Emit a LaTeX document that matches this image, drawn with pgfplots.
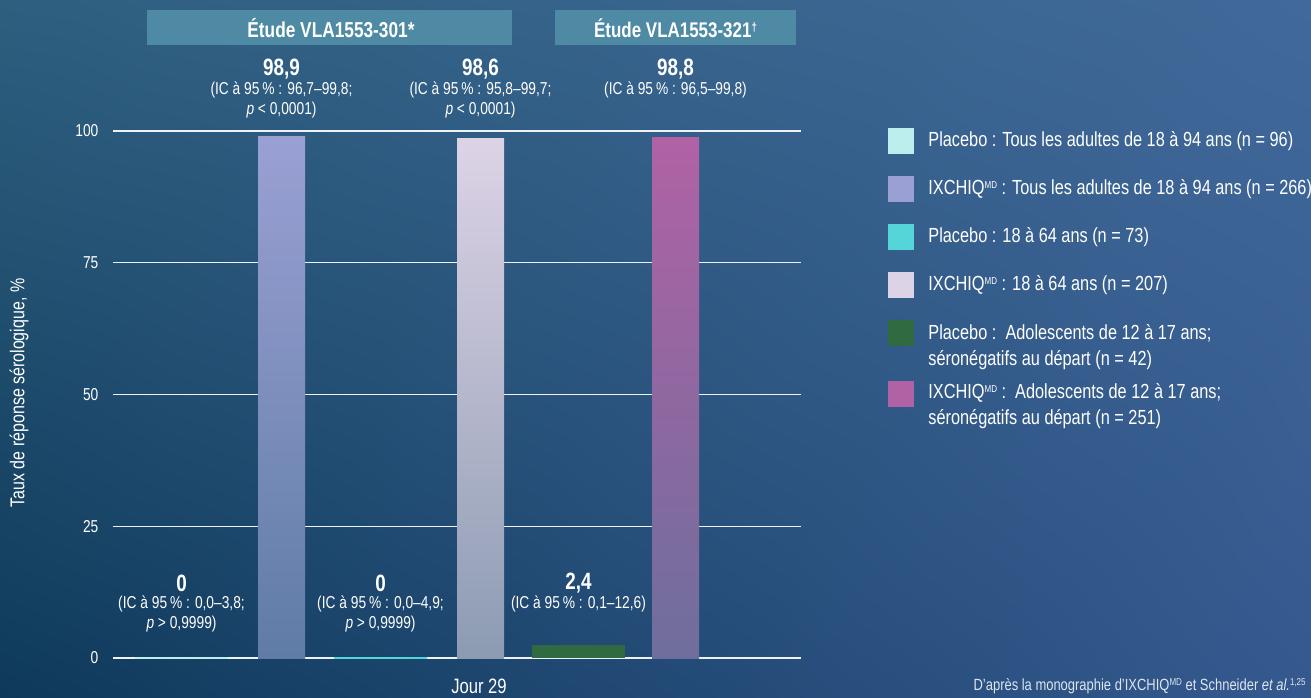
\documentclass[border=0pt]{standalone}
\usepackage{pgfplots}
\pgfplotsset{compat=1.18}
\usetikzlibrary{shadings}
\usepackage{fontspec}
\setmainfont{Liberation Sans}[FakeStretch=0.80]

\definecolor{bgTL}{HTML}{2E5F7F}
\definecolor{bgTR}{HTML}{41699A}
\definecolor{bgBL}{HTML}{0E395A}
\definecolor{bgBR}{HTML}{35598F}
\definecolor{hdr}{HTML}{4F8AA5}
\definecolor{plA}{HTML}{BDEEEE}
\definecolor{plB}{HTML}{55D5D8}
\definecolor{plC}{HTML}{2F6A40}
\definecolor{ixA}{HTML}{9AA0D3}
\definecolor{ixAb}{HTML}{5F7CA6}
\definecolor{ixB}{HTML}{DDD3E6}
\definecolor{ixBb}{HTML}{8C9BB2}
\definecolor{ixC}{HTML}{B062A5}
\definecolor{ixCb}{HTML}{6E6E9C}
\definecolor{foot}{HTML}{DDE5EF}

\newcommand{\md}{\raisebox{0.55ex}{\fontsize{5}{5}\selectfont MD}}

\begin{document}
\begin{tikzpicture}
% background, 1 px = 0.5pt, y down
\shade[upper left=bgTL, upper right=bgTR, lower left=bgBL, lower right=bgBR]
  (0pt,0pt) rectangle (655.5pt,-348.5pt);
\useasboundingbox (0pt,0pt) rectangle (655.5pt,-348.5pt);

\begin{axis}[
  at={(56.5pt,-329pt)}, anchor=south west,
  scale only axis, width=344pt, height=263.5pt,
  xmin=113, xmax=801, ymin=0, ymax=100,
  axis line style={draw=none},
  xtick=\empty,
  ytick={0,25,50,75,100},
  ymajorgrids,
  grid style={white!92!bgTL, line width=0.6pt},
  major tick length=0pt,
  yticklabel style={text=white, font=\fontsize{8.6}{10}\selectfont, xshift=-3.8pt},
  /pgf/number format/assume math mode=true,
  clip=false,
]
% Étude VLA1553-301: tous les adultes
\addplot[ybar, bar shift=0pt, bar width=93, draw=plA, line width=1pt, fill=plA]
  coordinates {(181.5,0)};
\addplot[ybar, bar shift=0pt, bar width=47, draw=none, top color=ixA, bottom color=ixAb]
  coordinates {(281.5,98.9)};
% 18 à 64 ans
\addplot[ybar, bar shift=0pt, bar width=93, draw=plB, line width=1pt, fill=plB]
  coordinates {(380.5,0)};
\addplot[ybar, bar shift=0pt, bar width=47, draw=none, top color=ixB, bottom color=ixBb]
  coordinates {(480.5,98.6)};
% Étude VLA1553-321: adolescents
\addplot[ybar, bar shift=0pt, bar width=93, draw=none, fill=plC]
  coordinates {(578.5,2.4)};
\addplot[ybar, bar shift=0pt, bar width=47, draw=none, top color=ixC, bottom color=ixCb]
  coordinates {(675.5,98.8)};
\end{axis}

\begin{scope}[x=0.5pt, y=-0.5pt, every node/.style={text=white, inner sep=0pt}]
  \tikzset{
    val/.style={font=\bfseries\fontsize{11.8}{12}\selectfont},
    ci/.style={font=\fontsize{8.6}{10}\selectfont},
    leg/.style={anchor=west, font=\fontsize{10.2}{12}\selectfont},
  }
  % study headers
  \fill[hdr] (147,10) rectangle (512,45);
  \fill[hdr] (555,10) rectangle (796,45);
  \node[font=\bfseries\fontsize{10.8}{12}\selectfont] at (331,28) {Étude VLA1553-301*};
  \node[font=\bfseries\fontsize{10.6}{12}\selectfont] at (675.5,28)
    {Étude VLA1553-321\raisebox{0.5ex}{\fontsize{6}{6}\selectfont †}};

  % values above IXCHIQ bars
  \node[val] at (281.5,69) {98,9};
  \node[ci]  at (281.5,90) {(IC à 95\,\% : 96,7–99,8;};
  \node[ci]  at (281.5,110) {\textit{p} < 0,0001)};
  \node[val] at (480.5,69) {98,6};
  \node[ci]  at (480.5,90) {(IC à 95\,\% : 95,8–99,7;};
  \node[ci]  at (480.5,110) {\textit{p} < 0,0001)};
  \node[val] at (675.5,69) {98,8};
  \node[ci]  at (675.5,90) {(IC à 95\,\% : 96,5–99,8)};

  % values above placebo bars
  \node[val] at (181.5,583) {0};
  \node[ci]  at (181.5,604) {(IC à 95\,\% : 0,0–3,8;};
  \node[ci]  at (181.5,624) {\textit{p} > 0,9999)};
  \node[val] at (380.5,583) {0};
  \node[ci]  at (380.5,604) {(IC à 95\,\% : 0,0–4,9;};
  \node[ci]  at (380.5,624) {\textit{p} > 0,9999)};
  \node[val] at (578.5,583) {2,4};
  \node[ci]  at (578.5,604) {(IC à 95\,\% : 0,1–12,6)};

  % axis titles
  \node[rotate=90, font=\fontsize{10}{12}\selectfont] at (19,393)
    {Taux de réponse sérologique, \%};
  \node[font=\fontsize{10.4}{12}\selectfont] at (479,686) {Jour 29};

  % legend
  \fill[plA] (888,128) rectangle (914,154);
  \node[leg] at (928,141) {Placebo : Tous les adultes de 18 à 94 ans (n = 96)};
  \fill[ixA] (888,176) rectangle (914,202);
  \node[leg] at (928,189) {IXCHIQ\md\ : Tous les adultes de 18 à 94 ans (n = 266)};
  \fill[plB] (888,224) rectangle (914,250);
  \node[leg] at (928,237) {Placebo : 18 à 64 ans (n = 73)};
  \fill[ixB] (888,272) rectangle (914,298);
  \node[leg] at (928,285) {IXCHIQ\md\ : 18 à 64 ans (n = 207)};
  \fill[plC] (888,320) rectangle (914,346);
  \node[leg] at (928,333) {Placebo :\ \ Adolescents de 12 à 17 ans;};
  \node[leg] at (928,360) {séronégatifs au départ (n = 42)};
  \fill[ixC] (888,381) rectangle (914,407);
  \node[leg] at (928,393) {IXCHIQ\md\ :\ \ Adolescents de 12 à 17 ans;};
  \node[leg] at (928,419) {séronégatifs au départ (n = 251)};

  % source
  \node[anchor=east, text=foot, font=\fontsize{8.1}{10}\selectfont] at (1306,686)
    {D’après la monographie d’IXCHIQ\md\ et Schneider \textit{et al.}\raisebox{0.6ex}{\fontsize{5}{5}\selectfont 1,25}};
\end{scope}
\end{tikzpicture}
\end{document}
